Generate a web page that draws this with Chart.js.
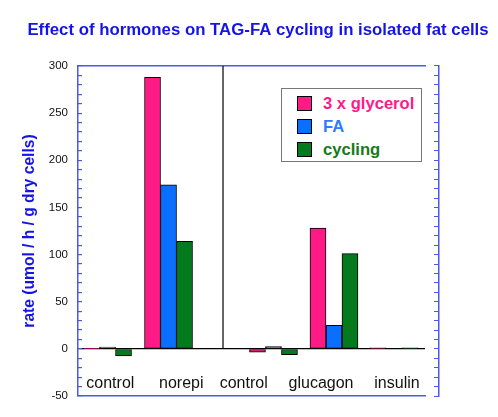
<!DOCTYPE html>
<html>
<head>
<meta charset="utf-8">
<script src="https://cdn.jsdelivr.net/npm/chart.js@4.4.0/dist/chart.umd.min.js"></script>
<style>
  html, body { margin: 0; padding: 0; background: #fff; }
  #wrap { position: relative; width: 498px; height: 417px; }
  #legend {
    position: absolute; left: 281px; top: 88px; width: 141px; height: 74px;
    border: 1.5px solid #777; box-sizing: border-box; background: #fff;
    font: bold 16.6px "Liberation Sans", Arial, sans-serif;
  }
  .item { position: absolute; left: 15px; height: 15px; }
  .sw { position: absolute; left: 0; top: 0; width: 15px; height: 15px; border: 1px solid #000; box-sizing: border-box; }
  .lbl { position: absolute; left: 26px; top: -2px; white-space: nowrap; line-height: 19px; }
</style>
</head>
<body>
<div id="wrap">
  <canvas id="chart" width="498" height="417"></canvas>
  <div id="legend"></div>
</div>
<script>
// --- data ---
const groupNames = ["control", "norepi", "control", "glucagon", "insulin"];
const groupPos = [0.485, 1.487, 3.211, 4.205, 5.19];   // x position of each bar group
const labelPos = [0.531, 1.697, 2.722, 3.992, 5.24];   // x position of each group label
const seriesNames = ["3 x glycerol", "FA", "cycling"];
const glycerol = [0.6, 288, -3.5, 128, 1.2];
const fa = [2, 174, 2.5, 25, 0];
const cycling = [-7.5, 114, -6, 101, 1.2];
const separatorX = 2.382;   // vertical divider between the two experiments
const xMax = 5.7;
const rightAxisX = 5.93;
const yMin = -50, yMax = 300;

// --- styles ---
const FONT = '"Liberation Sans", Arial, Helvetica, sans-serif';
const AXIS_BLUE = "#4a5ae6";
const TITLE_BLUE = "#1414e6";
const barColors = ["#ff1a85", "#0a6eff", "#037a1d"];
const textColors = ["#ff1a8a", "#2f7bff", "#167a16"];

Chart.defaults.font.family = FONT;

const seriesValues = [glycerol, fa, cycling];
const barSets = seriesValues.map((vals, i) => ({
  type: "bar",
  label: seriesNames[i],
  data: vals.map((v, j) => ({ x: groupPos[j], y: v })),
  backgroundColor: barColors[i],
  borderColor: "#000",
  borderWidth: 1,
  borderSkipped: false,
  barThickness: 16
}));

const dividerSet = {
  type: "line",
  label: "_divider",
  data: [{ x: separatorX, y: 0 }, { x: separatorX, y: yMax }],
  borderColor: "#000",
  borderWidth: 1.2,
  pointRadius: 0
};

const chart = new Chart(document.getElementById("chart"), {
  type: "bar",
  data: { datasets: barSets.concat([dividerSet]) },
  options: {
    responsive: false,
    animation: false,
    devicePixelRatio: 1,
    layout: { padding: { left: 18, right: 0, top: 0, bottom: 0 } },
    plugins: {
      legend: { display: false },
      tooltip: { enabled: false },
      title: {
        display: true,
        text: "Effect of hormones on TAG-FA cycling in isolated fat cells",
        color: TITLE_BLUE,
        font: { size: 16.8, weight: "bold" },
        padding: { top: 20, bottom: 25.8 }
      }
    },
    scales: {
      x: {
        type: "linear", position: "bottom", min: 0, max: xMax, offset: false,
        afterFit: s => { s.height = 8; },
        afterBuildTicks: s => { s.ticks = labelPos.map(v => ({ value: v })); },
        grid: { display: false, drawTicks: false },
        border: { color: AXIS_BLUE, width: 1.5 },
        ticks: {
          autoSkip: false, maxRotation: 0, mirror: true, padding: 3,
          color: "#111", font: { size: 16 },
          callback: (v, i) => groupNames[i]
        }
      },
      xTop: {
        type: "linear", axis: "x", position: "top", min: 0, max: xMax,
        afterFit: s => { s.height = 0; },
        grid: { display: false, drawTicks: false },
        border: { color: AXIS_BLUE, width: 1.5 },
        ticks: { display: false }
      },
      y: {
        position: "left", min: yMin, max: yMax,
        afterFit: s => { s.width = 60; },
        border: { color: AXIS_BLUE, width: 1.5 },
        grid: {
          color: c => (c.tick && c.tick.value === 0 ? "#000" : "rgba(0,0,0,0)"),
          lineWidth: 1.2,
          tickColor: AXIS_BLUE,
          tickLength: -4
        },
        ticks: {
          stepSize: 10, autoSkip: false, padding: 14,
          color: "#111", font: { size: 11.5 },
          callback: v => (v % 50 === 0 ? v : "")
        },
        title: {
          display: true,
          text: "rate (umol / h / g dry cells)",
          color: TITLE_BLUE,
          font: { size: 15.6, weight: "bold" },
          padding: { top: 2, bottom: 0 }
        }
      },
      yR: {
        axis: "y", position: { x: rightAxisX }, min: yMin, max: yMax,
        border: { color: AXIS_BLUE, width: 1.5 },
        grid: { drawOnChartArea: false, tickColor: AXIS_BLUE, tickLength: 4 },
        ticks: { stepSize: 10, autoSkip: false, callback: () => "" }
      },
      spacer: {
        axis: "y", position: "right", min: 0, max: 1,
        afterFit: s => { s.width = 73; },
        grid: { display: false, drawTicks: false },
        border: { display: false },
        ticks: { display: false }
      }
    }
  }
});

// --- legend inside the plot, built from the bar datasets ---
const legendBox = document.getElementById("legend");
const rowTops = [7, 30, 53];
barSets.forEach((ds, i) => {
  const item = document.createElement("div");
  item.className = "item";
  item.style.top = rowTops[i] + "px";
  const sw = document.createElement("div");
  sw.className = "sw";
  sw.style.background = ds.backgroundColor;
  const lbl = document.createElement("div");
  lbl.className = "lbl";
  lbl.style.color = textColors[i];
  lbl.textContent = ds.label;
  item.appendChild(sw);
  item.appendChild(lbl);
  legendBox.appendChild(item);
});
</script>
</body>
</html>
